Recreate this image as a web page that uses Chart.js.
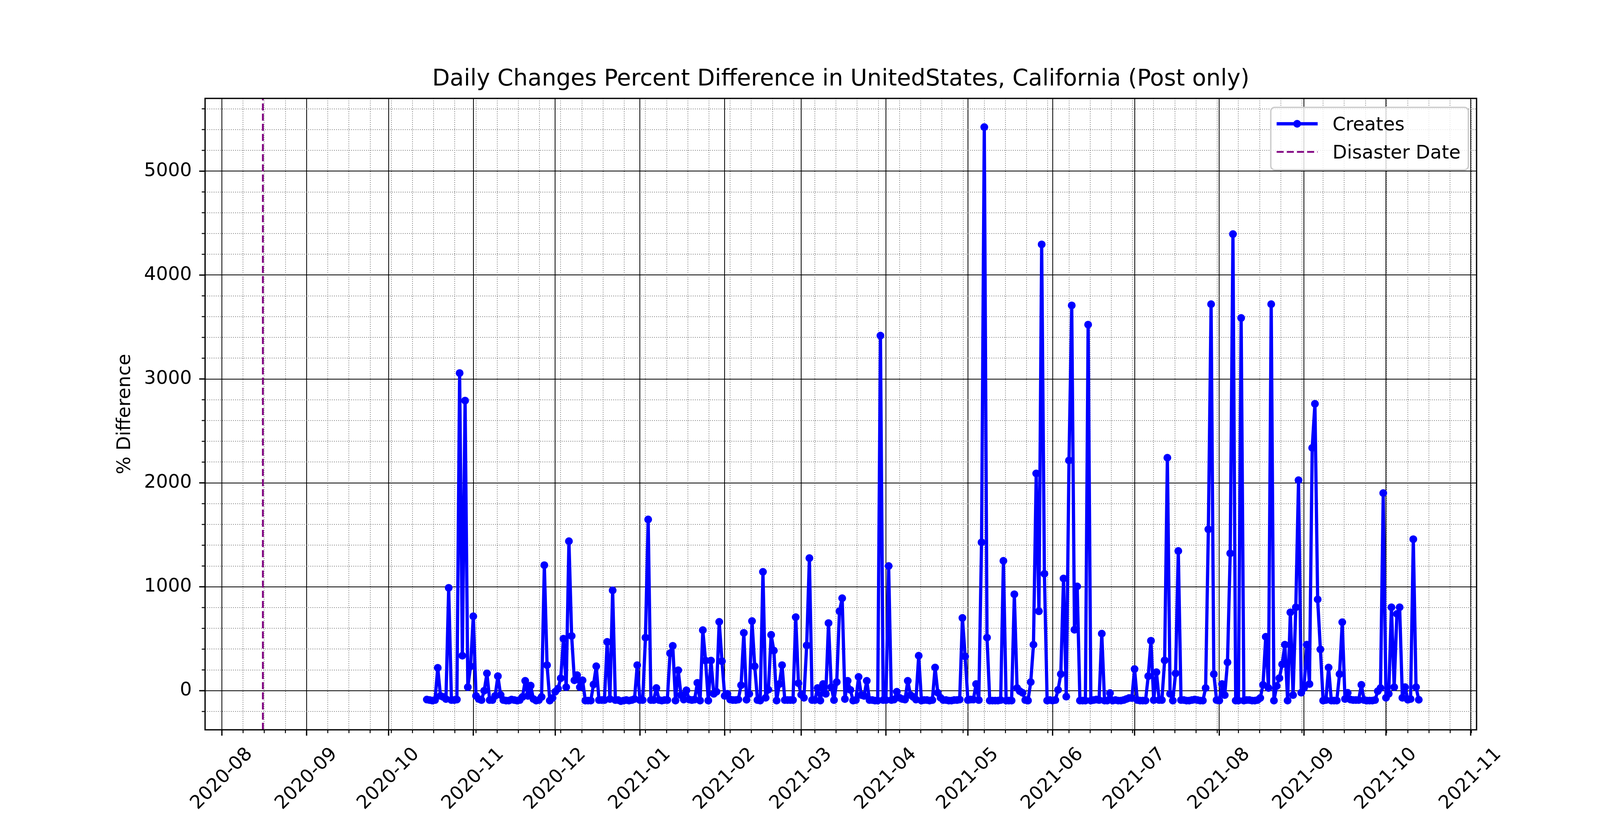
<!DOCTYPE html>
<html>
<head>
<meta charset="utf-8">
<title>Daily Changes Percent Difference</title>
<script src="https://cdn.jsdelivr.net/npm/chart.js@4.4.1/dist/chart.umd.min.js"></script>
<style>
  html, body { margin: 0; padding: 0; background: #fff; }
  #wrap { width: 4200px; height: 2100px; }
</style>
</head>
<body>
<div id="wrap"><canvas id="chart" width="4200" height="2100"></canvas></div>
<script>
// daily % difference of "Creates", one value per day from startDate on
const startDate = "2020-10-15";
const disasterDate = "2020-08-16";

const oct2020 = [-85, -90, -95, -90, 220, -50, -60, -80, 990, -90, -90, -85, 3057, 337, 2792, 34, 235];
const nov2020 = [716, -50, -80, -90, 0, 167, -90, -90, -50, 140, -40, -90, -95, -95, -85, -90, -95, -90, -60, 95,
  -50, 49, -80, -95, -90, -60, 1208, 246, -95, -70];
const dec2020 = [-10, 20, 120, 500, 34, 1439, 527, 100, 150, 34, 100, -95, -95, -95, 60, 235, -90, -90, -90, 470,
  -80, 966, -90, -90, -100, -95, -90, -95, -90, -80, 246];
const jan2021 = [-90, -90, 511, 1648, -90, -90, 26, -90, -95, -90, -90, 360, 432, -95, 197, -42, -85, 4, -85, -90,
  -85, 76, -95, 583, 290, -95, 290, -30, -10, 663, 284];
const feb2021 = [-50, -30, -85, -90, -90, -85, 53, 557, -87, -30, 670, 235, -90, -95, 1144, -68, 10, 538, 386, -95,
  64, 246, -90, -90, -90, -90, 708, 72];
const mar2021 = [-38, -68, 436, 1276, -90, -90, 26, -95, 64, -30, 651, 34, -90, 83, 765, 890, -80, 95, 8, -95,
  -90, 133, -42, -50, 95, -90, -90, -95, -95, 3417, -90];
const apr2021 = [-90, 1200, -90, -85, -10, -68, -80, -85, 95, -42, -60, -85, 337, -95, -90, -90, -95, -90, 223, -20,
  -68, -90, -90, -95, -95, -90, -90, -85, 700, 330];
const may2021 = [-90, -85, -85, 64, -90, 1428, 5424, 511, -95, -95, -95, -95, -90, 1250, -95, -95, -95, 928, 26, -4,
  -20, -90, -95, 83, 443, 2091, 765, 4295, 1125, -95, -90];
const jun2021 = [-95, -90, 8, 160, 1080, -57, 2216, 3708, 587, 1004, -95, -95, -95, 3523, -95, -90, -85, -90, 549, -95,
  -95, -23, -95, -90, -95, -95, -90, -80, -70, -70];
const jul2021 = [208, -90, -95, -95, -95, 140, 481, -90, 178, -90, -90, 292, 2242, -30, -95, 167, 1345, -90, -90, -95,
  -95, -90, -85, -90, -95, -95, 26, 1553, 3720, 160, -90];
const aug2021 = [-95, 64, -42, 273, 1322, 4394, -95, -95, 3587, -95, -90, -90, -95, -95, -90, -70, 57, 519, 26, 3720,
  -95, 45, 121, 254, 443, -95, 754, -42, 803, 2026, -19];
const sep2021 = [26, 443, 64, 2337, 2761, 879, 398, -95, -90, 223, -95, -95, -95, 160, 659, -80, -20, -85, -90, -90,
  -90, 57, -90, -95, -95, -95, -90, -4, 26, 1902];
const oct2021 = [-68, -30, 803, 34, 739, 803, -68, 34, -87, -80, 1458, 34, -87];

const createsPct = [].concat(oct2020, nov2020, dec2020, jan2021, feb2021, mar2021, apr2021,
  may2021, jun2021, jul2021, aug2021, sep2021, oct2021);

const monthTicks = ["2020-08", "2020-09", "2020-10", "2020-11", "2020-12", "2021-01", "2021-02", "2021-03",
  "2021-04", "2021-05", "2021-06", "2021-07", "2021-08", "2021-09", "2021-10", "2021-11"];
const yMajorTicks = [0, 1000, 2000, 3000, 4000, 5000];

const FONT = "'DejaVu Sans', sans-serif";
const BLUE = "#0000ff";
const PURPLE = "#800080";

// dates as whole days since epoch, so a linear axis can carry them
function dayNum(s) {
  const [y, m, d] = s.split("-").map(Number);
  return Date.UTC(y, m - 1, d || 1) / 86400000;
}

const start = dayNum(startDate);
const points = createsPct.map((v, i) => ({ x: start + i, y: v }));

// matplotlib style autoscale: 5% margin on both axes
const xLo = dayNum(disasterDate);
const xHi = start + createsPct.length - 1;
const xPad = (xHi - xLo) * 0.05;
const yLo = Math.min(...createsPct);
const yHi = Math.max(...createsPct);
const yPad = (yHi - yLo) * 0.05;
const xMin = xLo - xPad, xMax = xHi + xPad;
const yMin = yLo - yPad, yMax = yHi + yPad;

// major ticks at month starts, minor ticks every quarter of the first month step
const majorX = monthTicks.map(dayNum);
const xTickList = majorX.map(v => ({ value: v, isMajor: true }));
const minorStep = (majorX[1] - majorX[0]) / 4;
for (let v = majorX[0]; v <= xMax; v += minorStep) {
  if (v < xMin) continue;
  if (majorX.some(m => Math.abs(m - v) < 1e-6)) continue;
  xTickList.push({ value: v, isMajor: false });
}
xTickList.sort((a, b) => a.value - b.value);

const yTickList = [];
for (let v = Math.ceil(yMin / 200) * 200; v <= yMax; v += 200) {
  yTickList.push({ value: v, isMajor: yMajorTicks.includes(v) });
}

const gridColor = c => (c.tick && c.tick.isMajor ? "#000000" : "#808080");
const gridDash = c => (c.tick && c.tick.isMajor ? [] : [2, 3.5]);

const decor = {
  id: "decor",
  afterDraw(chart) {
    const { ctx, chartArea: a } = chart;
    const xs = chart.scales.x, ys = chart.scales.y;
    ctx.save();
    ctx.strokeStyle = "#000";
    ctx.lineCap = "butt";

    // tick marks outside the axes
    xs.ticks.forEach(t => {
      const px = xs.getPixelForValue(t.value);
      ctx.lineWidth = t.isMajor ? 3.3 : 2.5;
      ctx.beginPath();
      ctx.moveTo(px, a.bottom);
      ctx.lineTo(px, a.bottom + (t.isMajor ? 15 : 8.5));
      ctx.stroke();
    });
    ys.ticks.forEach(t => {
      const py = ys.getPixelForValue(t.value);
      ctx.lineWidth = t.isMajor ? 3.3 : 2.5;
      ctx.beginPath();
      ctx.moveTo(a.left, py);
      ctx.lineTo(a.left - (t.isMajor ? 15 : 8.5), py);
      ctx.stroke();
    });

    // spines
    ctx.lineWidth = 3.3;
    ctx.strokeRect(a.left, a.top, a.right - a.left, a.bottom - a.top);

    // month labels, rotated and centred under their tick
    ctx.fillStyle = "#000";
    ctx.font = "48px " + FONT;
    ctx.textAlign = "center";
    ctx.textBaseline = "middle";
    monthTicks.forEach(m => {
      const px = xs.getPixelForValue(dayNum(m));
      ctx.save();
      ctx.translate(px, a.bottom + 126);
      ctx.rotate(-Math.PI / 4);
      ctx.fillText(m, 0, 0);
      ctx.restore();
    });

    // legend, upper right inside the axes
    const sets = chart.data.datasets;
    const textW = Math.max(...sets.map(d => ctx.measureText(d.label).width));
    const boxW = 20 + 100 + 38 + textW + 20;
    const boxH = 160;
    const bx = a.right - 21 - boxW, by = a.top + 23;
    const r = 10;
    ctx.beginPath();
    ctx.moveTo(bx + r, by);
    ctx.arcTo(bx + boxW, by, bx + boxW, by + boxH, r);
    ctx.arcTo(bx + boxW, by + boxH, bx, by + boxH, r);
    ctx.arcTo(bx, by + boxH, bx, by, r);
    ctx.arcTo(bx, by, bx + boxW, by, r);
    ctx.closePath();
    ctx.fillStyle = "rgba(255,255,255,0.8)";
    ctx.fill();
    ctx.lineWidth = 3.5;
    ctx.strokeStyle = "#cccccc";
    ctx.stroke();

    const hx0 = bx + 15, hx1 = hx0 + 105;
    const rows = [by + 42, by + 114];
    sets.forEach((d, i) => {
      const ry = rows[i];
      ctx.strokeStyle = d.borderColor;
      ctx.lineWidth = d.borderWidth;
      ctx.setLineDash(d.borderDash || []);
      ctx.beginPath();
      ctx.moveTo(hx0, ry);
      ctx.lineTo(hx1, ry);
      ctx.stroke();
      ctx.setLineDash([]);
      if (d.pointRadius > 0) {
        ctx.fillStyle = d.pointBackgroundColor;
        ctx.beginPath();
        ctx.arc((hx0 + hx1) / 2, ry, d.pointRadius + d.pointBorderWidth / 2, 0, Math.PI * 2);
        ctx.fill();
      }
      ctx.fillStyle = "#000";
      ctx.textAlign = "left";
      ctx.textBaseline = "alphabetic";
      ctx.fillText(d.label, hx1 + 38, ry + 17);
    });
    ctx.restore();
  }
};

new Chart(document.getElementById("chart"), {
  type: "line",
  data: {
    datasets: [
      {
        label: "Creates",
        data: points,
        borderColor: BLUE,
        borderWidth: 8.3,
        borderJoinStyle: "round",
        pointRadius: 8.5,
        pointBorderWidth: 3,
        pointBackgroundColor: BLUE,
        pointBorderColor: BLUE,
        tension: 0,
        fill: false,
      },
      {
        label: "Disaster Date",
        data: [{ x: xLo, y: yMin }, { x: xLo, y: yMax }],
        borderColor: PURPLE,
        borderWidth: 4.6,
        borderDash: [18, 8],
        pointRadius: 0,
        pointBorderWidth: 0,
        fill: false,
      },
    ],
  },
  options: {
    responsive: false,
    devicePixelRatio: 1,
    animation: false,
    events: [],
    layout: { padding: { left: 0, top: 0, right: 420, bottom: 0 } },
    plugins: {
      legend: { display: false },
      tooltip: { enabled: false },
      title: {
        display: true,
        fullSize: false,
        text: "Daily Changes Percent Difference in UnitedStates, California (Post only)",
        color: "#000",
        font: { family: FONT, size: 58.5, weight: "normal", lineHeight: 1.2 },
        padding: { top: 169, bottom: 12.8 },
      },
    },
    scales: {
      x: {
        type: "linear",
        bounds: "data",
        min: xMin,
        max: xMax,
        afterBuildTicks: scale => { scale.ticks = xTickList.map(t => ({ ...t })); },
        afterFit: scale => { scale.height = 231; },
        ticks: { display: false, autoSkip: false },
        grid: { color: gridColor, lineWidth: 2, drawTicks: false },
        border: { display: false, dash: gridDash },
      },
      y: {
        type: "linear",
        bounds: "data",
        min: yMin,
        max: yMax,
        afterBuildTicks: scale => { scale.ticks = yTickList.map(t => ({ ...t })); },
        afterFit: scale => { scale.width = 525; },
        ticks: {
          autoSkip: false,
          padding: 34,
          color: "#000",
          font: { family: FONT, size: 48 },
          callback: v => (yMajorTicks.includes(v) ? String(v) : ""),
        },
        grid: { color: gridColor, lineWidth: 2, drawTicks: false },
        border: { display: false, dash: gridDash },
        title: {
          display: true,
          text: "% Difference",
          color: "#000",
          font: { family: FONT, size: 48, lineHeight: 1.2 },
          padding: { top: 292, bottom: 0 },
        },
      },
    },
  },
  plugins: [decor],
});
</script>
</body>
</html>
